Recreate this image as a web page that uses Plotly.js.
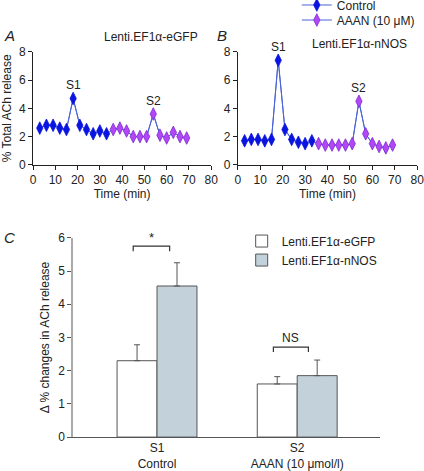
<!DOCTYPE html>
<html><head><meta charset="utf-8">
<script src="https://cdn.plot.ly/plotly-3.0.1.min.js"></script>
<style>html,body{margin:0;padding:0;background:#fff}</style>
</head><body><div id="chart" style="width:424px;height:471px"></div>
<script>
// Time course data (min)
const timeControl = [3,6,9,12,15,18,21,24,27,30,33];
const timeAAAN = [36,39,42,45,48,51,54,57,60,63,66,69];
// Panel A: Lenti.EF1α-eGFP
const gfpControl = [2.6,2.8,2.8,2.6,2.5,4.7,2.8,2.5,2.2,2.4,2.2];
const gfpAAAN = [2.5,2.6,2.4,2.0,2.0,2.0,3.6,2.1,1.9,2.3,2.0,1.9];
// Panel B: Lenti.EF1α-nNOS
const nosControl = [1.7,1.8,1.8,1.7,1.8,7.4,2.5,1.8,1.6,1.5,1.7];
const nosAAAN = [1.5,1.4,1.4,1.4,1.4,1.5,4.5,2.2,1.5,1.3,1.2,1.4];
// Panel C: bar chart
const barCats = [0,1];
const barTickText = ['S1<br>Control','S2<br>AAAN (10 μmol/l)'];
const barGFP = [2.3,1.6];
const barGFPerr = [0.48,0.22];
const barNOS = [4.55,1.85];
const barNOSerr = [0.7,0.47];

const lineCol = '#4a63d6';
const ctrlCol = '#0a14e0';
const aaanCol = '#b347f5';
const aaanEdge = '#7a2ad0';
const font = 'Liberation Sans, Arial, sans-serif';

function mk(x, y, col, edge, name, xa, ya, show, leg) {
  return {x:x, y:y, type:'scatter', mode:'lines+markers', name:name, xaxis:xa, yaxis:ya,
    showlegend:show, legend:leg || 'legend',
    line:{color:lineCol, width:1},
    marker:{symbol:'diamond-tall', size:9, color:col, line:{color:edge, width:0.8}}};
}
function bg(x, y, xa, ya) {
  return {x:x, y:y, type:'scatter', mode:'lines', xaxis:xa, yaxis:ya, showlegend:false,
    line:{color:lineCol, width:1}, hoverinfo:'skip'};
}
const allT = timeControl.concat(timeAAAN);
const traces = [
  bg(allT, gfpControl.concat(gfpAAAN), 'x', 'y'),
  mk(timeControl, gfpControl, ctrlCol, ctrlCol, 'Control', 'x', 'y', true, 'legend'),
  mk(timeAAAN, gfpAAAN, aaanCol, aaanEdge, 'AAAN (10 μM)', 'x', 'y', true, 'legend3'),
  bg(allT, nosControl.concat(nosAAAN), 'x2', 'y2'),
  mk(timeControl, nosControl, ctrlCol, ctrlCol, 'Control', 'x2', 'y2', false),
  mk(timeAAAN, nosAAAN, aaanCol, aaanEdge, 'AAAN (10 μM)', 'x2', 'y2', false),
  {x:barCats, y:barGFP, type:'bar', name:'Lenti.EF1α-eGFP', xaxis:'x3', yaxis:'y3', legend:'legend2',
   marker:{color:'#ffffff', line:{color:'#555', width:1}},
   error_y:{type:'data', symmetric:false, array:barGFPerr, arrayminus:[0,0], color:'#555', thickness:1, width:3}},
  {x:barCats, y:barNOS, type:'bar', name:'Lenti.EF1α-nNOS', xaxis:'x3', yaxis:'y3', legend:'legend2',
   marker:{color:'#c3d2da', line:{color:'#555', width:1}},
   error_y:{type:'data', symmetric:false, array:barNOSerr, arrayminus:[0,0], color:'#555', thickness:1, width:3}}
];

const tf = {family:font, size:12, color:'#222'};
const lineAx = {showline:true, linecolor:'#222', linewidth:1, ticks:'outside', ticklen:4, tickcolor:'#222',
  showgrid:false, zeroline:false, tickfont:tf, automargin:false, ticklabeloverflow:'allow'};

function ann(text, xref, yref, x, y, size, extra) {
  return Object.assign({text:text, xref:xref, yref:yref, x:x, y:y, showarrow:false,
    xanchor:'center', yanchor:'middle', font:{family:font,size:size,color:'#222'}}, extra || {});
}
const legFont = {family:font,size:12,color:'#222'};

const layout = {
  width:424, height:471, margin:{l:0,r:0,t:0,b:0,autoexpand:false}, paper_bgcolor:'#fff', plot_bgcolor:'#fff',
  font:{family:font, color:'#222'},
  barmode:'group', bargap:0.43, bargroupgap:0,
  xaxis:Object.assign({}, lineAx, {domain:[0.078,0.498], range:[0,80], dtick:10, anchor:'y',
    title:{text:'Time (min)', font:{family:font,size:12,color:'#222'}, standoff:0}}),
  yaxis:Object.assign({}, lineAx, {domain:[0.650,0.890], range:[0,8], dtick:2, anchor:'x',
    title:{text:'% Total ACh release', font:{family:font,size:12,color:'#222'}, standoff:4}}),
  xaxis2:Object.assign({}, lineAx, {domain:[0.561,0.984], range:[0,80], dtick:10, anchor:'y2',
    title:{text:'Time (min)', font:{family:font,size:12,color:'#222'}, standoff:0}}),
  yaxis2:Object.assign({}, lineAx, {domain:[0.650,0.890], range:[0,8], dtick:2, anchor:'x2'}),
  xaxis3:{domain:[0.172,0.896], range:[-0.6,1.59], anchor:'y3', showline:true, linecolor:'#555', linewidth:1,
    showgrid:false, zeroline:false, ticks:'', tickvals:barCats, ticktext:barTickText, tickfont:tf},
  yaxis3:{domain:[0.072,0.495], range:[0,6], dtick:1, anchor:'x3', showline:true, linecolor:'#aaa', linewidth:1.5,
    showgrid:false, zeroline:false, ticks:'outside', ticklen:4, tickcolor:'#555', tickfont:tf,
    title:{text:'Δ % changes in ACh release', font:{family:font,size:12,color:'#222'}, standoff:6}},
  legend:{x:0.70, y:0.9894, xanchor:'left', yanchor:'middle', bgcolor:'rgba(0,0,0,0)',
    font:legFont, itemwidth:30},
  legend3:{x:0.70, y:0.9575, xanchor:'left', yanchor:'middle', bgcolor:'rgba(0,0,0,0)',
    font:legFont, itemwidth:30},
  legend2:{x:0.57, y:0.519, xanchor:'left', yanchor:'top', bgcolor:'rgba(0,0,0,0)',
    font:legFont, itemwidth:30},
  shapes:[
    {type:'path', xref:'x3', yref:'y3', path:'M -0.17 5.6 L -0.17 5.75 L 0.09 5.75 L 0.09 5.6', line:{color:'#333', width:1.2}},
    {type:'path', xref:'x3', yref:'y3', path:'M 0.83 2.56 L 0.83 2.71 L 1.08 2.71 L 1.08 2.56', line:{color:'#333', width:1.2}}
  ],
  annotations:[
    ann('<i>A</i>', 'paper', 'paper', 0.005, 0.925, 15, {xanchor:'left'}),
    ann('<i>B</i>', 'paper', 'paper', 0.508, 0.925, 15, {xanchor:'left'}),
    ann('<i>C</i>', 'paper', 'paper', 0.005, 0.495, 15, {xanchor:'left'}),
    ann('Lenti.EF1α-eGFP', 'paper', 'paper', 0.356, 0.921, 12),
    ann('Lenti.EF1α-nNOS', 'paper', 'paper', 0.849, 0.907, 12),
    ann('S1', 'x', 'y', 18, 4.7, 12, {yshift:13}),
    ann('S2', 'x', 'y', 54, 3.6, 12, {yshift:13}),
    ann('S1', 'x2', 'y2', 18, 7.4, 12, {yshift:13}),
    ann('S2', 'x2', 'y2', 54, 4.5, 12, {yshift:13}),
    ann('*', 'x3', 'y3', -0.04, 6.0, 13),
    ann('NS', 'x3', 'y3', 0.955, 2.98, 12)
  ]
};
Plotly.newPlot('chart', traces, layout, {displayModeBar:false, staticPlot:true});
</script></body></html>
